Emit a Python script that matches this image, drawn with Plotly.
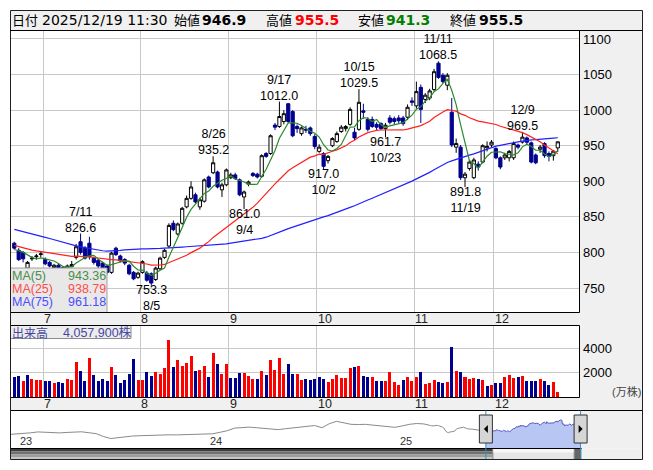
import numpy as np
import pandas as pd
import plotly.graph_objects as go

# ------------------------------------------------------------------
# Trading calendar (Tokyo Stock Exchange, 2025)
# ------------------------------------------------------------------
TSE_HOLIDAYS = ["2025-03-20", "2025-04-29", "2025-05-05", "2025-05-06", "2025-07-21",
                "2025-08-11", "2025-09-15", "2025-09-23", "2025-10-13", "2025-11-03",
                "2025-11-24"]
sessions = pd.bdate_range("2025-03-04", "2025-12-19")
sessions = sessions[~sessions.isin(pd.to_datetime(TSE_HOLIDAYS))]

# closes before the displayed window (needed by the moving averages)
pre_close = [920, 925, 915, 910, 905, 900, 895, 905, 915, 920, 925, 918, 910, 900, 895, 890, 885, 880,
             855, 835, 815, 795, 770, 745, 735, 730, 745, 745, 755, 760, 765, 755, 765,
             775, 790, 805, 820, 835, 845, 855, 860, 865, 870, 875, 865, 860, 855, 850,
             840, 830, 835, 832, 830, 828, 825, 822, 820, 803, 798, 800, 802, 806, 804, 802,
             800, 803, 806, 808, 805, 800, 798, 802, 805, 810]

# displayed window: 2025-06-20 .. 2025-12-19
open_ = [813, 803, 800, 778, 791, 794, 797,
         790, 786, 779, 782, 779, 777, 780, 793, 815, 806, 813, 792, 789, 785, 781, 772, 806, 795, 790, 782, 772, 765,
         772, 771, 770, 762, 777, 793, 809, 841, 826, 841, 864, 876, 881, 864, 872, 906, 912, 913, 888, 895,
         905, 909, 902, 878, 896, 911, 910, 907, 939, 939, 979, 977, 984, 1009, 998, 977, 967, 973, 975, 963,
         942, 939, 929, 950, 956, 970, 974, 980, 969, 973, 999, 987, 987, 980, 981, 974, 989, 988, 989, 989, 990, 1013,
         1006, 1032, 1015, 1017, 1029, 1066, 1049, 1035, 997, 948, 948, 905, 918, 905, 924, 927, 947, 951,
         946, 933, 933, 933, 933, 951, 955, 961, 954, 937, 945, 953, 939, 936, 946.9]
high = [815, 806, 802, 788, 795, 798, 802,
        793, 788, 784, 784, 781, 783, 788, 812, 826.6, 809, 822, 794, 791, 787, 783, 801, 808, 797, 792, 784, 774, 773,
        789, 774, 772, 780, 794, 805, 841, 845, 842, 864, 880, 900, 884, 877, 904, 908, 935.2, 915, 898, 918,
        912, 912, 904, 887, 901, 913, 912, 938, 941, 966, 982, 1012.0, 1000, 1010, 1000, 980, 977, 978, 977, 966,
        952, 941, 937, 962, 970, 979, 979, 1004, 975, 1029.5, 1009, 990, 991, 983, 983, 982, 993, 991, 993, 992, 1008, 1018,
        1040, 1036, 1024, 1030, 1058, 1068.5, 1052, 1052, 1017, 960, 951, 913, 930, 933, 928, 952, 956, 958,
        948, 935, 940, 944, 956, 953, 969.5, 963, 956, 939, 951, 955, 942, 944, 955.5]
low = [804, 788, 786, 776, 788, 790, 793,
       782, 779, 777, 776, 774, 775, 779, 790, 797, 790, 790, 783, 778, 774, 769, 770, 795, 786, 782, 768, 761, 763,
       770, 759, 753.3, 760, 775, 791, 806, 830, 824, 839, 862, 874, 869, 860, 870, 890, 910, 890, 878, 893,
       903, 902, 879, 861.0, 893, 906, 904, 905, 933, 937, 972, 975, 980, 982, 962, 968, 964, 968, 964, 945,
       940, 917.0, 925, 948, 954, 968, 970, 978, 958, 971, 988, 970, 975, 972, 972, 961.7, 980, 980, 982, 978, 986, 1006,
       1002, 982, 1010, 1014, 1026, 1044, 1038, 1028, 948, 940, 902, 891.8, 915, 903, 915, 925, 942, 948,
       931, 917, 930, 928, 930, 945, 953, 952, 925, 924, 940, 933, 928, 929, 941.3]
close = [806, 790, 791, 786, 792, 795, 798,
         784, 781, 782, 778, 776, 781, 783, 808, 800, 792, 794, 786, 781, 777, 772, 799, 797, 788, 785, 770, 763, 771,
         787, 761, 757, 778, 792, 803, 838, 832, 840, 862, 876, 892, 871, 874, 902, 892, 926, 892, 895, 916,
         909, 904, 881, 885, 899, 908, 906, 936, 935, 964, 976, 991, 995, 984, 964, 974, 975, 972, 967, 949,
         948, 921, 935, 960, 967, 976, 977, 1001, 961, 1011, 997, 973, 977, 976, 974, 978.8, 983, 984, 985, 981, 1004, 1011,
         1026, 1001, 1021, 1027, 1054, 1046, 1040, 1049, 951, 953, 905, 910, 927, 930, 920, 950, 949, 955,
         933, 920, 937, 942, 953, 948, 962, 954.9, 927, 926, 948, 936, 935, 942.3, 955.5]
# volume in 万株 (10,000 shares)
volume = [1650, 1700, 1290, 1790, 1460, 1375, 1375,
          1290, 1290, 1125, 1210, 1125, 1460, 1375, 2875, 2125, 1290, 3210, 1790, 1290, 1460, 1290, 2460, 1790, 1125, 1375, 1875, 3125, 1375,
          1375, 2040, 1710, 2040, 1875, 2375, 4710, 2460, 3040, 2540, 2790, 3375, 2125, 2210, 2540, 1625, 3625, 2710, 1875, 2710,
          1540, 1540, 1960, 1960, 1710, 1460, 1460, 2125, 1790, 3040, 2210, 3210, 1875, 2710, 1875, 1875, 1375, 1460, 1375, 1460,
          1625, 1460, 1210, 1460, 1790, 1540, 1540, 2375, 2460, 2540, 1710, 1625, 1625, 1290, 1290, 1290, 2040, 1210, 960, 1375, 1625, 1290,
          1625, 2040, 1040, 1125, 1375, 1210, 1125, 1210, 4125, 2125, 2040, 1625, 1460, 1540, 1460, 1375, 875, 960,
          1125, 1125, 1625, 1790, 1540, 1625, 1710, 1290, 1290, 1290, 1460, 1290, 960, 1210, 405.79]

# longer history shown in the navigator (two-weekly closes before March 2025)
nav_hist_dates = ["2022-12-16", "2022-12-30", "2023-01-13", "2023-01-27", "2023-02-10", "2023-02-24",
                  "2023-03-10", "2023-03-24", "2023-04-07", "2023-04-21", "2023-05-05", "2023-05-19",
                  "2023-06-02", "2023-06-16", "2023-06-30", "2023-07-14", "2023-07-28", "2023-08-11",
                  "2023-08-25", "2023-09-08", "2023-09-22", "2023-10-06", "2023-10-20", "2023-11-03",
                  "2023-11-17", "2023-12-01", "2023-12-15", "2023-12-29", "2024-01-12", "2024-01-26",
                  "2024-02-09", "2024-02-23", "2024-03-08", "2024-03-22", "2024-04-05", "2024-04-19",
                  "2024-05-03", "2024-05-17", "2024-05-31", "2024-06-14", "2024-06-28", "2024-07-12",
                  "2024-07-26", "2024-08-09", "2024-08-23", "2024-09-06", "2024-09-20", "2024-10-04",
                  "2024-10-18", "2024-11-01", "2024-11-15", "2024-11-29", "2024-12-13", "2024-12-27",
                  "2025-01-10", "2025-01-24", "2025-02-07", "2025-02-21"]
nav_hist_close = [690, 700, 715, 732, 755, 748, 738, 730, 742, 750, 758, 735,
                  712, 640, 590, 610, 640, 652, 660, 668, 674, 678, 682, 680,
                  686, 690, 695, 702, 708, 745, 785, 850, 868, 875, 860, 840,
                  820, 812, 835, 855, 868, 895, 915, 860, 960, 1020, 975, 945,
                  940, 945, 925, 905, 890, 870, 905, 945, 965, 955]

# dates whose high / low is labelled on the chart
peak_days = ["2025-07-11", "2025-08-26", "2025-09-17", "2025-10-15", "2025-11-11", "2025-12-09"]
trough_days = ["2025-08-05", "2025-09-04", "2025-10-02", "2025-10-23", "2025-11-19"]

price_ticks = [750, 800, 850, 900, 950, 1000, 1050, 1100]
vol_ticks = [2000, 4000]

# ------------------------------------------------------------------
n_pre, n = len(pre_close), len(close)
pre_dates = sessions[:n_pre]
dates = sessions[n_pre:n_pre + n]
idx = np.arange(n)

all_close = pd.Series(pre_close + close, dtype=float)
ma = {k: all_close.rolling(k).mean().to_numpy()[n_pre:] for k in (5, 25, 75)}
prev_close = [pre_close[-1]] + close[:-1]
RED, NAVY = "#ff0000", "#00008e"
vol_colors = [RED if c >= p else NAVY for c, p in zip(close, prev_close)]

pos = {d.strftime("%Y-%m-%d"): i for i, d in enumerate(dates)}
month_start = [i for i in range(1, n) if dates[i].month != dates[i - 1].month]
grid_x = [i - 0.5 for i in month_start]

# ------------------------------------------------------------------
W, H = 653, 470
def px(x):
    return x / W
def py(y):
    return 1 - y / H

NAV_X0, NAV_X1 = pd.Timestamp("2022-12-18 12:00"), pd.Timestamp("2026-04-16")
def nav_px(d):
    return 10 + (pd.Timestamp(d) - NAV_X0) / (NAV_X1 - NAV_X0) * 632

GRID = "#c8c8c8"
PANEL = "#f0f0f0"
FONT = "Liberation Sans, Noto Sans CJK JP"
CJK = "Noto Sans CJK JP"

fig = go.Figure()
fig.add_trace(go.Candlestick(
    x=idx, open=open_, high=high, low=low, close=close,
    increasing=dict(line=dict(color="#000000", width=1), fillcolor="#ffffff"),
    decreasing=dict(line=dict(color=NAVY, width=1), fillcolor=NAVY),
    whiskerwidth=0, hoverinfo="skip", xaxis="x", yaxis="y"))
for k, col in ((75, "#2020ff"), (25, "#ff2020"), (5, "#2b8a2b")):
    fig.add_trace(go.Scatter(x=idx, y=ma[k], mode="lines", line=dict(color=col, width=1.2),
                             hoverinfo="skip", xaxis="x", yaxis="y"))
fig.add_trace(go.Bar(x=idx, y=volume, width=0.68, marker=dict(color=vol_colors, line=dict(width=0)),
                     hoverinfo="skip", xaxis="x2", yaxis="y2"))
fig.add_trace(go.Scatter(x=list(pd.to_datetime(nav_hist_dates)) + list(pre_dates),
                         y=nav_hist_close + pre_close, mode="lines",
                         line=dict(color="#8a8a8a", width=1), hoverinfo="skip", xaxis="x3", yaxis="y3"))
fig.add_trace(go.Scatter(x=list(dates), y=close, mode="lines", fill="tozeroy", fillcolor="#b8c6f3",
                         line=dict(color="#5a5ac6", width=1), hoverinfo="skip", xaxis="x3", yaxis="y3"))

xr = [-0.97, 127.8]
common_x = dict(range=xr, tickvals=grid_x, showticklabels=False, showgrid=True, gridcolor=GRID,
                gridwidth=1, zeroline=False, showline=False, ticks="", fixedrange=True)
tick_font = dict(family="Liberation Sans", size=13, color="#000000")
fig.update_layout(
    width=W, height=H, margin=dict(l=0, r=0, t=0, b=0),
    paper_bgcolor="#ffffff", plot_bgcolor="#ffffff", showlegend=False, hovermode=False,
    boxgap=0.25, boxgroupgap=0.04, bargap=0,
    xaxis=dict(domain=[px(10), px(579)], anchor="y", rangeslider=dict(visible=False), **common_x),
    yaxis=dict(domain=[py(312.5), py(30.5)], range=[715.6, 1111.9], side="right", anchor="x",
               tickvals=price_ticks, tickformat="d", gridcolor=GRID, zeroline=False, ticks="",
               tickfont=tick_font, ticklabelstandoff=3, fixedrange=True),
    xaxis2=dict(domain=[px(10), px(579)], anchor="y2", **common_x),
    yaxis2=dict(domain=[py(397), py(325)], range=[-41.7, 5958], side="right", anchor="x2",
                tickvals=vol_ticks, tickformat="d", gridcolor=GRID, zeroline=False, ticks="",
                tickfont=tick_font, ticklabelstandoff=3, fixedrange=True),
    xaxis3=dict(domain=[px(10), px(642)], anchor="y3", type="date", range=[NAV_X0, NAV_X1],
                visible=False, fixedrange=True),
    yaxis3=dict(domain=[py(448), py(410)], anchor="x3", range=[352, 1304], visible=False,
                fixedrange=True),
)

# ------------------------------------------------------------------
# frame, panels and navigator furniture
# ------------------------------------------------------------------
def rect(x0, y0, x1, y1, fill="rgba(0,0,0,0)", line=None, width=1, layer="above"):
    return dict(type="rect", xref="paper", yref="paper", x0=px(x0), x1=px(x1), y0=py(y1), y1=py(y0),
                fillcolor=fill, layer=layer,
                line=dict(color=line if line else "rgba(0,0,0,0)", width=width if line else 0))

def hline(x0, x1, y, color="#000000", width=1):
    return dict(type="line", xref="paper", yref="paper", x0=px(x0), x1=px(x1), y0=py(y), y1=py(y),
                line=dict(color=color, width=width), layer="above")

def vline(x, y0, y1, color="#000000", width=1):
    return dict(type="line", xref="paper", yref="paper", x0=px(x), x1=px(x), y0=py(y0), y1=py(y1),
                line=dict(color=color, width=width), layer="above")

hL, hR = nav_px(dates[0]), nav_px(dates[-1])
shapes = [
    rect(10, 10, 642, 30.5, fill=PANEL, layer="below"),
    rect(579, 30.5, 642, 410, fill=PANEL, layer="below"),
    rect(10, 312.5, 579, 325, fill=PANEL, layer="below"),
    rect(10, 397, 579, 410, fill=PANEL, layer="below"),
    rect(hR + 1, 410, 642, 448.5, fill=PANEL, layer="below"),
    # MA legend box
    rect(10.5, 268, 107, 312.5, fill="#e8e8e8", line="#a0a0a0"),
    # volume caption box
    rect(10.5, 325.5, 131, 338.5, fill="#ececec", line="#8c8c8c"),
    # scrollbar
    rect(10, 448.5, hL + 7, 451.5, fill="#3e3e3e"),
    rect(10, 451.5, hL + 7, 454.5, fill="#707070"),
    rect(10, 454.5, hL + 7, 457, fill="#9c9c9c"),
    rect(10, 457, hL + 7, 459.5, fill="#c6c6c6"),
    rect(hR - 6.5, 448.5, hR + 1, 459.5, fill="#666666"),
    rect(hL + 7, 448.5, hR - 6.5, 459.5, fill="#e6e6e6", line="#8a8a8a"),
    rect(hL + 7.5, 449, hR - 7, 452.5, fill="#f7f7f7"),
    rect(hR + 1, 448.5, 642, 459.5, fill=PANEL),
    # borders
    rect(10.5, 30.5, 579.5, 312.5, line="#000000"),
    rect(10.5, 325.5, 579.5, 397.5, line="#000000"),
    hline(10, 642, 410.5),
    hline(10, hR + 1, 448.5),
    vline(hL, 410.5, 459.5, color="#2f8fd0"),
    vline(hR, 410.5, 459.5, color="#2f8fd0"),
    rect(hL - 6.5, 415, hL + 6.5, 443, fill="#d6d6d6", line="#303030"),
    rect(hR - 6.5, 415, hR + 6.5, 443, fill="#d6d6d6", line="#303030"),
    dict(type="path", xref="paper", yref="paper", fillcolor="#000000", line=dict(width=0), layer="above",
         path=f"M {px(hL + 2)},{py(425)} L {px(hL - 2)},{py(429)} L {px(hL + 2)},{py(433)} Z"),
    dict(type="path", xref="paper", yref="paper", fillcolor="#000000", line=dict(width=0), layer="above",
         path=f"M {px(hR - 2)},{py(425)} L {px(hR + 2)},{py(429)} L {px(hR - 2)},{py(433)} Z"),
    rect(10.5, 10.5, 642.5, 459.5, line="#202020"),
    hline(10, 642, 30.5),
]

# ------------------------------------------------------------------
# texts
# ------------------------------------------------------------------
def text(x, y, s, size=12, color="#000000", family=FONT, xanchor="left", weight="normal"):
    return dict(x=px(x), y=py(y), xref="paper", yref="paper", text=s, showarrow=False,
                xanchor=xanchor, yanchor="middle", xshift=-2 if xanchor == "left" else 2,
                font=dict(family=family, size=size, color=color, weight=weight))

last = dates[-1]
annotations = [
    text(12, 20, "日付", 13, family=CJK),
    text(42, 20, f"{last:%Y/%m/%d} 11:30", 14, family="DejaVu Sans"),
    text(174, 20, "始値", 13, family=CJK),
    text(202, 20, f"{open_[-1]:.1f}", 14, family="DejaVu Sans", weight="bold"),
    text(266, 20, "高値", 13, family=CJK),
    text(295, 20, f"{high[-1]:.1f}", 14, color="#ff0000", family="DejaVu Sans", weight="bold"),
    text(358, 20, "安値", 13, family=CJK),
    text(386, 20, f"{low[-1]:.1f}", 14, color="#008000", family="DejaVu Sans", weight="bold"),
    text(450, 20, "終値", 13, family=CJK),
    text(479, 20, f"{close[-1]:.1f}", 14, family="DejaVu Sans", weight="bold"),
]

# moving-average legend
for row_y, k, col in ((276, 5, "#4c8c4c"), (289, 25, "#ff4c4c"), (302, 75, "#4c4cff")):
    annotations.append(text(12, row_y, f"MA({k})", 12.5, color=col))
    annotations.append(text(106, row_y, f"{ma[k][-1]:.2f}", 12.5, color=col, xanchor="right"))

# volume caption and unit
annotations.append(text(12, 332, "出来高", 12, color="#4646a0", family=CJK))
annotations.append(text(63, 332, f"{round(volume[-1] * 10000):,}株", 12.5, color="#4646a0"))
annotations.append(text(612, 391, "(万株)", 11, color="#444444"))

# month labels under both panels
for gx, i in zip(grid_x, month_start):
    for yy in (318.5, 403.5):
        annotations.append(dict(x=gx, y=py(yy), xref="x", yref="paper", text=str(dates[i].month),
                                showarrow=False, xanchor="left", yanchor="middle", xshift=-1,
                                font=dict(family="Liberation Sans", size=12.5, color="#222222")))

# labelled highs (date above value) and lows (value above date)
lab_font = dict(family="Liberation Sans", size=12.5, color="#000000")
for d in peak_days:
    i = pos[d]
    annotations.append(dict(x=i, y=high[i], xref="x", yref="y",
                            text=f"{dates[i].month}/{dates[i].day}<br>{high[i]:.1f}",
                            showarrow=False, yanchor="bottom", yshift=-1, borderpad=0, borderwidth=0,
                            font=lab_font))
for d in trough_days:
    i = pos[d]
    annotations.append(dict(x=i, y=low[i], xref="x", yref="y",
                            text=f"{low[i]:.1f}<br>{dates[i].month}/{dates[i].day}",
                            showarrow=False, yanchor="top", yshift=2.5, borderpad=0, borderwidth=0,
                            font=lab_font))

# navigator year labels
for yr in range(2023, last.year + 1):
    annotations.append(dict(x=px(nav_px(f"{yr}-01-01") + 1), y=py(441), xref="paper", yref="paper",
                            text=str(yr)[2:], showarrow=False, xanchor="left", yanchor="middle",
                            font=dict(family="Liberation Sans", size=11, color="#333333")))

fig.update_layout(shapes=shapes, annotations=annotations)
fig.write_html("out.html")
